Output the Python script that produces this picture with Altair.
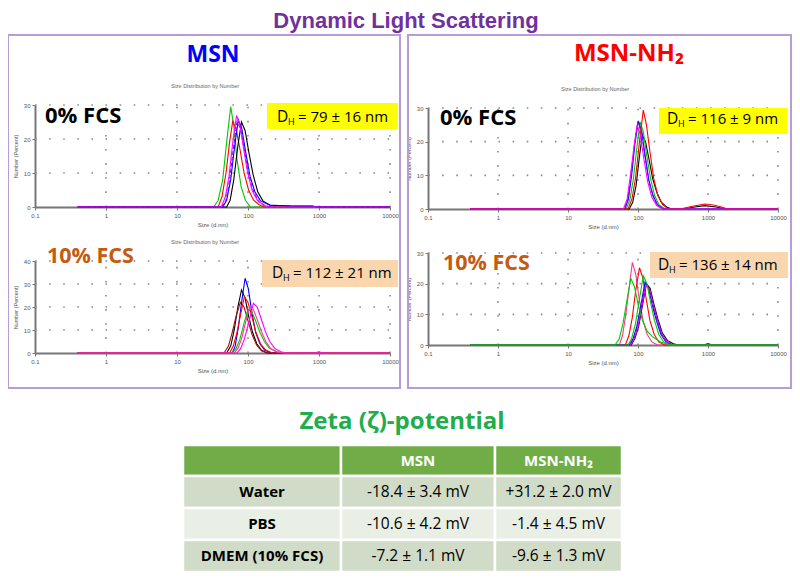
import altair as alt
import pandas as pd

# ---------------- data ----------------
x_tick_values = [0.1, 1, 10, 100, 1000, 10000]
x_grid_values = [1, 10, 100, 1000, 10000]

# MSN, 0% FCS  (size in d.nm, number %)
tl_green_size = [0.4, 33, 38, 44, 50, 57, 63, 70, 80, 92, 108, 10000]
tl_green_pct = [0, 0, 2, 8, 19, 29.5, 24, 14, 6, 2, 0, 0]
tl_red_size = [0.4, 38, 43, 49, 55, 61, 68, 77, 88, 102, 120, 145, 170, 10000]
tl_red_pct = [0, 0, 3, 10, 19, 25.3, 23, 17, 10, 5, 2, 0.6, 0, 0]
tl_black_size = [0.4, 50, 56, 63, 72, 81, 91, 103, 118, 137, 162, 205, 400, 800, 950, 10000]
tl_black_pct = [0, 0, 2, 8, 18, 25, 22.5, 16, 9.5, 4.5, 1.8, 0.5, 0.3, 0.3, 0, 0]
tl_blue_size = [0.4, 44, 50, 57, 65, 73, 82, 93, 107, 125, 150, 200, 400, 800, 1000, 10000]
tl_blue_pct = [0, 0, 2, 8, 18, 25.6, 23, 16, 9, 4.5, 1.8, 0.6, 0.3, 0.2, 0, 0]
tl_purple_size = [0.4, 43, 49, 55, 62, 70, 79, 90, 103, 120, 142, 175, 210, 10000]
tl_purple_pct = [0, 0, 2, 8, 17, 25, 23, 16, 9, 4.5, 1.5, 0.4, 0, 0]
tl_magenta_size = [0.4, 42, 48, 54, 61, 69, 77, 87, 99, 114, 135, 165, 200, 10000]
tl_magenta_pct = [0, 0, 3, 9, 19, 26.9, 24, 17, 10, 5, 2, 0.5, 0, 0]

# MSN, 10% FCS
bl_black_size = [0.4, 50, 57, 64, 72, 81, 91, 102, 116, 133, 155, 185, 10000]
bl_black_pct = [0, 0, 3, 10, 20, 27.4, 24, 16, 9, 4, 1.2, 0, 0]
bl_brown_size = [0.4, 46, 53, 60, 68, 78, 88, 100, 114, 132, 155, 185, 10000]
bl_brown_pct = [0, 0, 3, 9, 16, 22, 20, 14, 8, 3.5, 1, 0, 0]
bl_blue_size = [0.4, 60, 66, 73, 82, 91, 101, 113, 128, 147, 172, 215, 10000]
bl_blue_pct = [0, 0, 3, 11, 23, 32.5, 28, 18, 9, 4, 1.2, 0, 0]
bl_green_size = [0.4, 60, 68, 77, 88, 100, 113, 128, 147, 170, 200, 250, 300, 10000]
bl_green_pct = [0, 0, 2, 6, 13, 19, 18, 14, 9, 5, 2, 0.5, 0, 0]
bl_red_size = [0.4, 55, 62, 70, 79, 89, 100, 113, 129, 150, 178, 220, 10000]
bl_red_pct = [0, 0, 3, 9, 17, 24.5, 22, 16, 9, 4, 1.3, 0, 0]
bl_magenta_size = [0.4, 70, 79, 89, 104, 119, 135, 153, 175, 202, 238, 290, 350, 850, 1000, 1150, 10000]
bl_magenta_pct = [0, 0, 2, 6, 14, 21.6, 20, 15, 9.5, 5, 2, 0.5, 0, 0, 0.5, 0, 0]
bl_pink_size = [0.4, 64, 72, 81, 92, 105, 119, 135, 154, 178, 208, 255, 320, 10000]
bl_pink_pct = [0, 0, 2, 6, 13, 19.8, 19, 14.5, 9.5, 5, 2, 0.5, 0, 0]

# MSN-NH2, 0% FCS
tr_black_size = [0.4, 75, 84, 94, 104, 115, 128, 143, 162, 185, 215, 260, 305, 450, 650, 900, 1300, 1800, 10000]
tr_black_pct = [0, 0, 2, 7, 15, 22, 20, 15, 9, 5, 2, 0.5, 0, 0, 0.6, 1.0, 0.6, 0, 0]
tr_green_size = [0.4, 68, 77, 86, 96, 107, 119, 133, 151, 173, 200, 245, 10000]
tr_green_pct = [0, 0, 3, 9, 18, 25.9, 23, 16, 9, 4, 1.2, 0, 0]
tr_blue_size = [0.4, 65, 73, 81, 90, 101, 113, 126, 143, 164, 190, 230, 10000]
tr_blue_pct = [0, 0, 3, 10, 19, 26.2, 23, 16, 8.5, 4, 1.2, 0, 0]
tr_purple_size = [0.4, 64, 72, 80, 89, 100, 112, 125, 142, 163, 188, 228, 10000]
tr_purple_pct = [0, 0, 3, 10, 19, 26, 23, 16, 8.5, 4, 1.2, 0, 0]
tr_red_size = [0.4, 72, 82, 92, 105, 119, 132, 148, 168, 192, 225, 270, 400, 600, 900, 1200, 1600, 1900, 10000]
tr_red_pct = [0, 0, 3, 9, 20, 29.4, 25, 17, 9, 4, 1.3, 0, 0, 0.8, 1.5, 1.2, 0.5, 0, 0]
tr_magenta_size = [0.4, 62, 70, 78, 87, 97, 108, 121, 138, 158, 185, 225, 10000]
tr_magenta_pct = [0, 0, 3, 10, 18, 25, 22, 15, 8, 3.5, 1, 0, 0]

# MSN-NH2, 10% FCS
br_pink_size = [0.4, 54, 60, 67, 75, 83, 93, 104, 118, 135, 158, 190, 10000]
br_pink_pct = [0, 0, 3, 10, 19, 26.9, 23, 15, 8, 3.5, 1, 0, 0]
br_red_size = [0.4, 66, 74, 83, 93, 105, 117, 131, 148, 170, 198, 240, 10000]
br_red_pct = [0, 0, 3, 9, 18, 25.2, 22, 15, 8, 3.5, 1, 0, 0]
br_blue_size = [0.4, 75, 85, 96, 110, 126, 142, 160, 183, 212, 250, 310, 10000]
br_blue_pct = [0, 0, 2, 6, 13, 20.5, 18.5, 13, 8, 3.5, 1, 0, 0]
br_black_size = [0.4, 80, 90, 102, 116, 132, 149, 168, 192, 222, 262, 320, 380, 850, 1000, 1200, 10000]
br_black_pct = [0, 0, 2, 6, 13, 20, 18.5, 13.5, 8.5, 4, 1.5, 0.4, 0, 0, 0.4, 0, 0]
br_magenta_size = [0.4, 78, 88, 100, 114, 130, 147, 166, 190, 220, 258, 315, 10000]
br_magenta_pct = [0, 0, 2, 6, 13, 19.5, 18, 13, 8, 3.5, 1.2, 0, 0]
br_purple_size = [0.4, 76, 86, 98, 112, 128, 145, 164, 187, 216, 254, 312, 10000]
br_purple_pct = [0, 0, 2, 6, 13, 20, 18.5, 13, 8, 3.5, 1, 0, 0]
br_green2_size = [0.4, 72, 81, 92, 105, 119, 134, 151, 172, 198, 232, 285, 10000]
br_green2_pct = [0, 0, 2, 7, 15, 22.6, 20, 14, 8, 3.5, 1, 0, 0]
br_green1_size = [0.4, 47, 54, 61, 70, 79, 89, 101, 116, 135, 165, 210, 290, 10000]
br_green1_pct = [0, 0, 2, 7, 15, 21.7, 19, 13, 8, 4.5, 2.5, 1, 0, 0]

# zeta potential table
tbl_header = ["", "MSN", "MSN-NH₂"]
tbl_media = ["Water", "PBS", "DMEM (10% FCS)"]
zeta_msn = ["-18.4 ± 3.4 mV", "-10.6 ± 4.2 mV", "-7.2 ± 1.1 mV"]
zeta_nh2 = ["+31.2 ± 2.0 mV", "-1.4 ± 4.5 mV", "-9.6 ± 1.3 mV"]

# ---------------- styles ----------------
FONT = "Open Sans"
SMALL = "Liberation Sans"
RED, GREEN, BLUE, BLACK = "#ff0000", "#00c800", "#0000ff", "#000000"
MAGENTA, PURPLE, PINK, BROWN = "#ff00ff", "#7a00ff", "#ff3399", "#a01010"
ONE = pd.DataFrame({"a": [0]})


def x_axis(offset):
    return alt.Axis(orient="bottom", offset=offset, values=x_tick_values, format="~g",
                    title="Size (d.nm)", grid=False, labelFlush=False, labelFontSize=6,
                    titleFontSize=6, labelColor="#555", titleColor="#555", labelFont=SMALL,
                    titleFont=SMALL, titleFontWeight="normal", domainColor="#777",
                    domainWidth=2, tickColor="#777", tickSize=3, labelPadding=2,
                    titlePadding=3, labelOverlap=False)


def y_axis(offset, vals):
    return alt.Axis(orient="left", offset=offset, values=vals, title="Number (Percent)",
                    grid=False, labelFontSize=6, titleFontSize=5.5, labelColor="#555",
                    titleColor="#555", labelFont=SMALL, titleFont=SMALL,
                    titleFontWeight="normal", domainColor="#777", domainWidth=2,
                    tickColor="#777", tickSize=3, labelPadding=2, titlePadding=5,
                    labelOverlap=False)


def panel(curves, xr, yr, ymax, yvals, xoff, yoff):
    """Returns a flat list of layers; every layer carries the same explicit scales."""
    def xs():
        return alt.Scale(type="log", domain=[0.1, 10000], range=xr, nice=False)

    def ys():
        return alt.Scale(type="linear", domain=[0, ymax], range=yr, nice=False, zero=True)

    grid_style = dict(color="#8a8a8a", strokeWidth=1.6, strokeDash=[1.6, 12.5])
    vg = alt.Chart(pd.DataFrame({"s": x_grid_values})).mark_rule(**grid_style).encode(
        x=alt.X("s:Q", scale=xs(), axis=None),
        y=alt.YDatum(0, scale=ys(), axis=None, type="quantitative"),
        y2=alt.Y2Datum(ymax),
    )
    hg = alt.Chart(pd.DataFrame({"v": yvals[1:]})).mark_rule(**grid_style).encode(
        y=alt.Y("v:Q", scale=ys(), axis=None),
        x=alt.XDatum(0.1, scale=xs(), axis=None, type="quantitative"),
        x2=alt.X2Datum(10000),
    )
    layers = [vg, hg]
    for i, (size, pct, color, dash) in enumerate(curves):
        kw = dict(color=color, strokeWidth=1.1)
        if dash:
            kw["strokeDash"] = dash
        first = i == 0
        layers.append(
            alt.Chart(pd.DataFrame({"size": size, "pct": pct})).mark_line(**kw).encode(
                x=alt.X("size:Q", scale=xs(), axis=x_axis(xoff) if first else None),
                y=alt.Y("pct:Q", scale=ys(), axis=y_axis(yoff, yvals) if first else None),
            )
        )
    return layers


tl = panel([
    (tl_green_size, tl_green_pct, GREEN, None),
    (tl_red_size, tl_red_pct, RED, None),
    (tl_black_size, tl_black_pct, BLACK, None),
    (tl_blue_size, tl_blue_pct, BLUE, None),
    (tl_purple_size, tl_purple_pct, PURPLE, [4, 2]),
    (tl_magenta_size, tl_magenta_pct, MAGENTA, None),
], [27, 382], [199, 97], 30, [0, 10, 20, 30], -366, -27)

bl = panel([
    (bl_black_size, bl_black_pct, BLACK, None),
    (bl_brown_size, bl_brown_pct, BROWN, None),
    (bl_blue_size, bl_blue_pct, BLUE, None),
    (bl_green_size, bl_green_pct, GREEN, None),
    (bl_red_size, bl_red_pct, RED, None),
    (bl_magenta_size, bl_magenta_pct, MAGENTA, None),
    (bl_pink_size, bl_pink_pct, PINK, None),
], [27, 382], [345, 253], 40, [0, 10, 20, 30, 40], -220, -27)

tr = panel([
    (tr_black_size, tr_black_pct, BLACK, None),
    (tr_green_size, tr_green_pct, GREEN, None),
    (tr_blue_size, tr_blue_pct, BLUE, None),
    (tr_purple_size, tr_purple_pct, PURPLE, [4, 2]),
    (tr_red_size, tr_red_pct, RED, None),
    (tr_magenta_size, tr_magenta_pct, MAGENTA, None),
], [420, 770], [201, 100], 30, [0, 10, 20, 30], -364, -420)

br = panel([
    (br_pink_size, br_pink_pct, PINK, None),
    (br_red_size, br_red_pct, RED, None),
    (br_blue_size, br_blue_pct, BLUE, None),
    (br_black_size, br_black_pct, BLACK, None),
    (br_magenta_size, br_magenta_pct, MAGENTA, None),
    (br_purple_size, br_purple_pct, PURPLE, [4, 2]),
    (br_green2_size, br_green2_pct, GREEN, None),
    (br_green1_size, br_green1_pct, GREEN, None),
], [420, 770], [337, 245], 30, [0, 10, 20, 30], -228, -420)


def box(x0, x1, y0, y1, fill=None, stroke=None, sw=0):
    kw = {"fill": fill if fill else "transparent"}
    if stroke:
        kw["stroke"] = stroke
        kw["strokeWidth"] = sw
    return alt.Chart(ONE).mark_rect(**kw).encode(
        x=alt.value(x0), x2=alt.value(x1), y=alt.value(y0), y2=alt.value(y1))


def label(text, x, y, size, color="black", weight="bold", align="left", font=FONT):
    return alt.Chart(ONE).mark_text(
        text=text, fontSize=size, color=color, fontWeight=weight, align=align,
        baseline="alphabetic", font=font).encode(x=alt.value(x), y=alt.value(y))


def dh(x0, y, rest):
    return [label("D", x0, y, 15.5, weight="normal"),
            label("H", x0 + 11, y + 3, 9, weight="normal"),
            label(rest, x0 + 21, y, 15, weight="normal")]


decor = [
    box(0, 392, 27, 380, stroke="#b99bd8", sw=2),
    box(400, 783, 27, 380, stroke="#b99bd8", sw=2),
]

notes = [
    box(259, 390, 95, 121, fill="#ffff00"),
    box(651, 779, 100, 126, fill="#ffff00"),
    box(254, 390, 252, 279, fill="#f9d6ae"),
    box(642, 780, 244, 270, fill="#f9d6ae"),
    label("Dynamic Light Scattering", 398, 20, 22, color="#7030a0", align="center",
          font=SMALL),
    label("MSN", 205, 54, 23, color="#0000ff", align="center"),
    label("MSN-NH₂", 621, 53, 24, color="#ff0000", align="center"),
    label("Size Distribution by Number", 197, 80, 5.5, color="#666", weight="normal",
          align="center", font=SMALL),
    label("Size Distribution by Number", 587, 83, 5.5, color="#666", weight="normal",
          align="center", font=SMALL),
    label("Size Distribution by Number", 197, 236, 5.5, color="#666", weight="normal",
          align="center", font=SMALL),
    label("0% FCS", 37, 115, 22),
    label("0% FCS", 432, 117, 22),
    label("10% FCS", 39, 255, 21.5, color="#c55a11"),
    label("10% FCS", 435, 262, 21.5, color="#c55a11"),
    *dh(269, 114, "= 79 ± 16 nm"),
    *dh(659, 116, "= 116 ± 9 nm"),
    *dh(264, 270, "= 112 ± 21 nm"),
    *dh(650, 262, "= 136 ± 14 nm"),
    label("Zeta (ζ)-potential", 394, 421, 24, color="#20ad4a", align="center"),
]

# ---- table built from the lists ----
rows = []
for c, h in enumerate(tbl_header):
    rows.append({"c": c, "r": 0, "text": h, "kind": "head", "band": "head"})
for r, m in enumerate(tbl_media, start=1):
    band = "dark" if r % 2 == 1 else "light"
    rows.append({"c": 0, "r": r, "text": m, "kind": "label", "band": band})
    rows.append({"c": 1, "r": r, "text": zeta_msn[r - 1], "kind": "value", "band": band})
    rows.append({"c": 2, "r": r, "text": zeta_nh2[r - 1], "kind": "value", "band": band})
cells = pd.DataFrame(rows)


def txs():
    return alt.Scale(type="linear", domain=[0, 1, 2, 3], range=[175, 333, 487, 614],
                     nice=False, zero=False)


def tys():
    return alt.Scale(type="linear", domain=[0, 1, 2, 3, 4], range=[437, 468, 500, 532, 564],
                     nice=False, zero=False)


base = alt.Chart(cells).transform_calculate(
    c2="datum.c + 1", r2="datum.r + 1", cm="datum.c + 0.5", rm="datum.r + 0.5")
cell_rects = base.mark_rect(stroke="white", strokeWidth=2.5).encode(
    x=alt.X("c:Q", scale=txs(), axis=None), x2="c2:Q",
    y=alt.Y("r:Q", scale=tys(), axis=None), y2="r2:Q",
    fill=alt.Fill("band:N", scale=alt.Scale(domain=["head", "dark", "light"],
                                             range=["#70ad47", "#d0dcc7", "#e9efe5"]),
                  legend=None),
)


def cell_text(kind, color, weight, size):
    return base.transform_filter(alt.datum.kind == kind).mark_text(
        fontSize=size, font=FONT, color=color, fontWeight=weight, baseline="middle").encode(
        x=alt.X("cm:Q", scale=txs(), axis=None),
        y=alt.Y("rm:Q", scale=tys(), axis=None),
        text="text:N")


table = [cell_rects, cell_text("head", "white", "bold", 15),
         cell_text("label", "black", "bold", 15), cell_text("value", "black", "normal", 15.5)]

chart = alt.layer(*decor, *tl, *bl, *tr, *br, *table, *notes).resolve_scale(
    x="independent", y="independent").resolve_axis(
    x="independent", y="independent").properties(
    width=784, height=565, padding=0, autosize=alt.AutoSizeParams(type="none"),
    background="white").configure_view(stroke=None)

chart.save("out.html", embed_options={"renderer": "svg", "actions": False})
